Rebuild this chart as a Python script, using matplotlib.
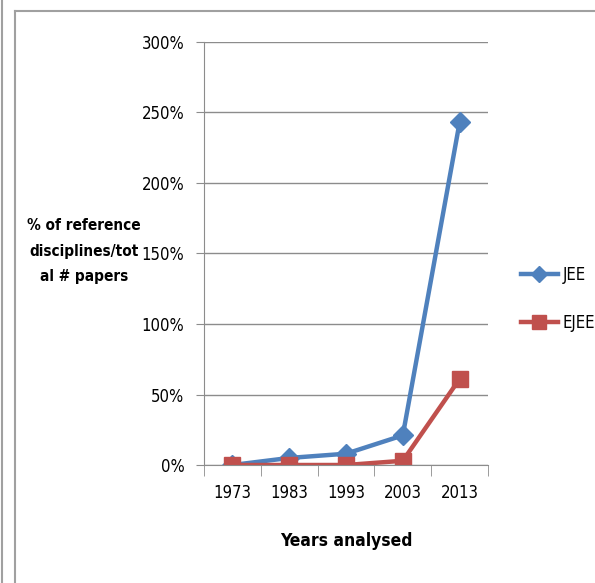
import matplotlib.pyplot as plt
from matplotlib.lines import Line2D
from matplotlib.ticker import FuncFormatter, FixedLocator, NullFormatter

years = ["1973", "1983", "1993", "2003", "2013"]
jee = [0, 5, 8, 21, 243]
ejee = [0, 0, 0, 3, 61]

plt.rcParams["font.family"] = ["DejaVu Sans"]
plt.rcParams["font.stretch"] = "condensed"

W, H = 595, 583
fig = plt.figure(figsize=(W / 100, H / 100), dpi=100)
ax = fig.add_axes([204 / W, 1 - 465 / H, 284 / W, 423 / H])

x = range(len(years))
ax.plot(x, jee, color="#4F81BD", lw=3.2, marker="D", ms=10, label="JEE")
ax.plot(x, ejee, color="#C0504D", lw=3.2, marker="s", ms=11.5, label="EJEE")

ax.set_xlim(-0.5, len(years) - 0.5)
ax.set_ylim(0, 300)
ax.set_yticks(range(0, 301, 50))
ax.yaxis.set_major_formatter(FuncFormatter(lambda v, p: f"{v:.0f}%"))
ax.grid(axis="y", color="#8c8c8c", lw=1)
ax.set_axisbelow(True)

ax.set_xticks(list(x))
ax.set_xticklabels(years)
ax.xaxis.set_minor_locator(FixedLocator([i - 0.5 for i in range(len(years) + 1)]))
ax.xaxis.set_minor_formatter(NullFormatter())
ax.tick_params(axis="x", which="major", length=0, pad=14, labelsize=12)
ax.tick_params(axis="x", which="minor", length=8, color="#8c8c8c", direction="out")
ax.tick_params(axis="y", length=6, color="#8c8c8c", labelsize=12, pad=8)

for s in ["top", "right"]:
    ax.spines[s].set_visible(False)
for s in ["left", "bottom"]:
    ax.spines[s].set_color("#8c8c8c")

fig.text(84 / W, 1 - 251 / H, "% of reference\ndisciplines/tot\nal # papers",
         ha="center", va="center", fontsize=11, fontweight="bold", linespacing=1.85)
fig.text(346 / W, 1 - 541 / H, "Years analysed", ha="center", va="center",
         fontsize=12.5, fontweight="bold")

ax.legend(loc="center left", bbox_to_anchor=(506 / W, 1 - 299 / H),
          bbox_transform=fig.transFigure, frameon=False, fontsize=12,
          handlelength=2.2, handletextpad=0.3, labelspacing=1.8, markerscale=0.85)

# outer frame lines
fig.add_artist(Line2D([2 / W, 2 / W], [0, 1], color="#a0a0a0", lw=1.5))
fig.add_artist(Line2D([14.5 / W, 14.5 / W], [0, 1 - 11 / H], color="#a0a0a0", lw=1.5))
fig.add_artist(Line2D([14.5 / W, 1], [1 - 11 / H, 1 - 11 / H], color="#a0a0a0", lw=1.5))

fig.savefig("out.png", dpi=100)
